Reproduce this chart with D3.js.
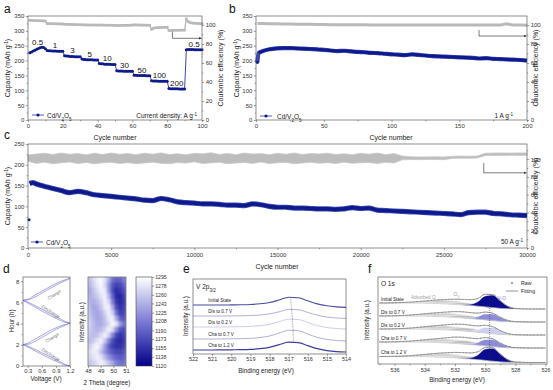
<!DOCTYPE html>
<html>
<head>
<meta charset="utf-8">
<script src="https://cdn.jsdelivr.net/npm/d3@7/dist/d3.min.js"></script>
<style>
body{margin:0;background:#fff;}
svg{display:block;font-family:"Liberation Sans",Arial,sans-serif;}
.ax text{fill:#333;}
.ax line{stroke:#444;stroke-width:0.5;}
</style>
</head>
<body>
<div id="fig"></div>
<script>
// ---------- a : rate capability ----------
var rateCap = [
226,229,232,235,238,241,243,245,244,240,
234,233,233,232,232,232,231,231,231,231,
216,215,215,214,214,214,213,213,213,213,
205,204,204,203,203,203,203,202,202,202,
190,189,189,188,188,188,188,187,187,187,
166,165,165,165,164,164,164,164,164,164,
151,151,150,150,150,150,150,149,149,149,
132,131,131,131,130,130,130,130,130,130,
106,105,105,105,105,105,104,104,104,104,
236,237,237,237,237,236,236,236,236,236];
var rateCE = [
105.0,104.9,104.8,104.7,104.6,104.5,104.5,104.4,104.3,104.2,
101.5,101.5,101.4,101.4,101.3,101.3,101.2,101.2,101.1,101.1,
100.8,100.7,100.7,100.6,100.5,100.5,100.4,100.4,100.3,100.3,
100.2,100.2,100.1,100.1,100.0,100.0,100.0,100.0,99.9,99.9,
100.0,100.0,99.9,99.9,99.8,99.8,99.8,99.8,99.7,99.7,
99.4,99.5,99.6,99.6,99.7,99.7,99.8,99.8,99.8,99.9,
100.2,100.1,100.0,100.0,99.9,99.9,99.9,99.8,99.8,99.8,
95.5,96.5,97.0,97.2,97.3,97.4,97.5,97.5,97.6,97.6,
94.2,94.3,94.4,94.4,94.5,94.5,94.5,94.6,94.6,94.6,
106.5,103.8,102.6,102.2,102.0,101.8,101.7,101.6,101.5,101.5];
var rateLabels = ['0.5','1','3','5','10','30','50','100','200','0.5'];

// ---------- b : 1 A/g cycling ----------
var bCycles = [1,2,5,10,15,20,25,30,35,40,45,50,55,60,65,70,75,80,85,90,95,100,105,110,115,120,125,130,135,140,145,150,155,160,165,170,175,180,185,190,195,200];
var bCap = [194,226,232,238,241,242,242,241,240,239,238,236,234,232,233,231,229,228,226,225,223,221,220,218,221,219,217,215,214,213,212,211,210,209,207,208,206,205,204,203,202,200];
var bCE = [101.5,101.6,101.5,101.4,101.3,101.2,101.0,100.9,100.8,100.7,100.6,100.5,100.4,100.4,100.3,100.3,100.2,100.2,100.1,100.1,100.1,100.0,100.0,100.0,100.0,100.0,99.9,99.9,99.9,99.9,99.9,99.9,99.9,99.9,99.9,99.9,99.9,99.9,101.2,99.9,99.9,99.8];

// ---------- c : 50 A/g long cycling ----------
var cCycles = [0,100,300,500,1000,1500,2000,2500,3000,3500,4000,4500,5000,5500,6000,6500,7000,7500,8000,8500,9000,9500,10000,10500,11000,11500,12000,12500,13000,13500,14000,14500,15000,15500,16000,16500,17000,17500,18000,18500,19000,19500,20000,20500,21000,21500,22000,22500,23000,23500,24000,24500,25000,25500,26000,26500,27000,27500,28000,28500,29000,29500,30000];
var cCap = [68,155,157,154,148,143,138,133,136,133,128,126,124,122,120,118,115,114,119,116,111,109,108,106,106,105,103,103,102,106,104,100,98,98,96,96,95,94,94,93,94,97,95,96,91,90,89,88,87,86,85,84,83,82,80,85,86,86,83,82,80,79,78];
var cCeUpper = [104.5,105.8,106.5,105.2,106.8,105.5,106.2,104.8,106.6,105.1,
106.9,105.4,106.3,104.9,106.7,105.6,107.0,105.2,106.1,104.8,
106.5,105.9,107.1,105.3,106.4,105.0,106.8,105.7,106.2,104.9,
106.6,105.4,106.9,105.1,106.3,105.8,106.7,105.2,106.0,104.9,
106.5,105.6,106.8,105.0,106.2,
103.5,102.6,102.4,102.5,102.6,102.4,103.2,103.4,103.3,103.5,106.6,106.8,106.9,106.8,107.0,106.9];
var cCeLower = [97.5,95.2,96.4,94.8,95.9,96.8,95.0,96.2,94.7,95.8,
96.5,95.1,96.0,94.9,95.7,96.6,95.3,94.8,96.1,95.5,
96.9,95.0,95.8,96.4,94.9,95.6,96.2,95.2,96.7,95.0,
95.9,96.3,94.8,95.7,96.5,95.4,96.0,95.1,96.6,95.3,
95.9,96.2,95.0,96.4,95.6,
99.2,99.5,99.4,99.6,99.5,99.4,100.8,101.0,100.9,101.2,104.0,104.2,104.1,104.3,104.2,104.3];

// ---------- d : operando ----------
var dVolt = [0.2,0.3,0.4,0.5,0.6,0.7,0.8,0.9,1.0,1.1,1.2];
var dBranches = [
  [2.02,1.80,1.57,1.33,1.10,0.87,0.65,0.45,0.25,0.08,0.00],
  [2.02,1.88,1.68,1.47,1.25,1.03,0.82,0.60,0.38,0.15,0.00],
  [2.02,2.15,2.40,2.65,2.90,3.15,3.40,3.60,3.78,3.92,4.05],
  [2.02,2.05,2.20,2.45,2.70,2.95,3.20,3.45,3.65,3.85,4.05],
  [6.20,5.95,5.70,5.45,5.20,4.95,4.72,4.50,4.30,4.13,4.05],
  [6.20,6.03,5.83,5.60,5.36,5.12,4.90,4.66,4.43,4.20,4.05],
  [6.20,6.30,6.55,6.80,7.05,7.30,7.55,7.78,7.98,8.15,8.28],
  [6.20,6.24,6.40,6.62,6.88,7.13,7.38,7.62,7.85,8.05,8.28]];
var dBranchNames = [['Discharge',50,356,32],['Charge',53,339,-33],['Discharge',50,313,32],['Charge',55,296,-33]];
var hmTheta = [48.15,48.45,48.75,49.05,49.35,49.65,49.95,50.25,50.55,50.85];
var hmHours = [8.14,7.61,7.09,6.56,6.04,5.51,4.99,4.46,3.94,3.41,2.89,2.36,1.84,1.31,0.79,0.26];
var hmGrid = [
  [1250,1270,1285,1290,1275,1240,1200,1185,1190,1205],
  [1245,1265,1280,1290,1270,1225,1180,1165,1170,1190],
  [1235,1255,1270,1285,1280,1230,1175,1150,1160,1175],
  [1240,1250,1260,1275,1285,1250,1190,1150,1145,1165],
  [1245,1240,1250,1265,1285,1270,1210,1160,1150,1160],
  [1250,1235,1240,1255,1280,1285,1240,1175,1155,1165],
  [1255,1240,1235,1245,1265,1285,1265,1200,1165,1170],
  [1260,1245,1235,1240,1255,1280,1285,1240,1190,1180],
  [1265,1250,1240,1240,1250,1270,1290,1275,1230,1200],
  [1260,1250,1245,1250,1265,1285,1270,1220,1180,1175],
  [1255,1250,1255,1270,1285,1265,1215,1170,1155,1165],
  [1250,1260,1275,1285,1260,1215,1175,1155,1150,1160],
  [1260,1280,1290,1270,1230,1190,1165,1155,1155,1165],
  [1270,1285,1280,1255,1225,1200,1180,1170,1170,1180],
  [1265,1275,1285,1275,1250,1225,1205,1190,1185,1190],
  [1255,1265,1275,1285,1275,1255,1235,1210,1200,1200]];
var cbTicks = [1295,1278,1260,1243,1225,1208,1190,1173,1155,1138,1120];

// ---------- e : V 2p3/2 ----------
var eEnergy = [522,521.5,521,520.5,520,519.5,519,518.5,518,517.5,517,516.5,516,515.5,515,514.5,514];
var eNames = ['Initial State','Dis to 0.7 V','Dis to 0.2 V','Cha to 0.7 V','Cha to 1.2 V'];
var eCurves = [
  [3.0,3.0,3.0,3.0,3.1,3.2,3.5,4.2,5.5,8.0,10.8,10.2,7.2,4.1,2.2,1.1,0.6],
  [3.0,3.0,3.0,3.0,3.1,3.2,3.4,4.0,5.1,7.2,9.6,9.3,6.6,3.8,2.0,1.0,0.5],
  [2.5,2.5,2.5,2.6,2.7,2.8,3.1,3.8,5.2,7.7,10.3,10.0,7.0,3.9,2.0,1.0,0.5],
  [2.5,2.5,2.5,2.6,2.7,2.8,3.1,3.9,5.5,8.4,11.2,10.8,7.5,4.1,2.1,1.0,0.5],
  [2.5,2.5,2.5,2.6,2.7,2.8,3.1,3.8,5.2,7.8,10.3,9.8,6.9,3.8,1.9,0.9,0.5]];
var ePeaks = [516.9,516.85,516.8,516.77,516.75];

// ---------- f : O 1s ----------
var fEnergy = [537,536,535,534,533.5,533,532.5,532,531.5,531,530.5,530,529.5,529,528.5,528,527,526];
var fBg = [6,6,6,5.8,5.6,5.3,5.0,4.6,4.0,3.4,2.8,2.1,1.3,0.6,0.2,0,0,0];
var fNames = ['Initial State','Dis to 0.7 V','Dis to 0.2 V','Cha to 0.7 V','Cha to 1.2 V'];
var fAds = [
  [0,0.2,0.8,2.2,3.0,3.6,3.8,3.6,3.0,2.2,1.3,0.6,0.2,0,0,0,0,0],
  [0,0.2,0.9,2.4,3.2,3.8,4.0,3.8,3.2,2.4,1.4,0.6,0.2,0,0,0,0,0],
  [0,0.2,0.9,2.5,3.3,3.9,4.1,3.9,3.3,2.5,1.5,0.7,0.2,0,0,0,0,0],
  [0,0.2,0.9,2.4,3.2,3.8,4.0,3.8,3.2,2.4,1.4,0.6,0.2,0,0,0,0,0],
  [0,0.2,0.8,2.3,3.1,3.7,3.9,3.7,3.1,2.3,1.3,0.6,0.2,0,0,0,0,0]];
var fOv = [
  [0,0,0,0,0.1,0.3,0.8,1.6,2.3,2.4,1.8,1.0,0.4,0.1,0,0,0,0],
  [0,0,0,0,0.1,0.4,1.0,2.0,2.8,2.9,2.2,1.2,0.5,0.1,0,0,0,0],
  [0,0,0,0,0.1,0.5,1.2,2.3,3.2,3.3,2.5,1.4,0.5,0.1,0,0,0,0],
  [0,0,0,0,0.1,0.5,1.3,2.5,3.4,3.4,2.5,1.3,0.5,0.1,0,0,0,0],
  [0,0,0,0,0.1,0.4,0.9,1.8,2.5,2.6,1.9,1.0,0.4,0.1,0,0,0,0]];
var fVo = [
  [0,0,0,0,0,0,0,0,0.3,1.3,4.5,11.0,12.6,7.6,2.6,0.6,0,0],
  [0,0,0,0,0,0,0,0,0.2,0.7,2.5,6.0,6.8,4.1,1.4,0.4,0,0],
  [0,0,0,0,0,0,0,0,0.2,0.6,2.3,5.5,6.3,3.8,1.3,0.3,0,0],
  [0,0,0,0,0,0,0,0,0.2,0.7,2.6,6.4,7.2,4.3,1.5,0.4,0,0],
  [0,0,0,0,0,0,0,0,0.3,1.3,4.6,11.3,12.9,7.8,2.7,0.6,0,0]];
var fVoColors = ['#0c0c8e','#8c8cd8','#cfcff2','#8c8cd8','#0c0c8e'];

var navy = '#0e1a8c', ceGray = '#b9b9b9';
var svg = d3.select('#fig').append('svg').attr('width', 553).attr('height', 390);
svg.append('rect').attr('width', 553).attr('height', 390).attr('fill', '#fff');
var defs = svg.append('defs');
defs.append('marker').attr('id', 'arr').attr('viewBox', '0 0 6 6').attr('refX', 6).attr('refY', 3)
  .attr('markerWidth', 4).attr('markerHeight', 4).attr('orient', 'auto')
  .append('path').attr('d', 'M0,0L6,3L0,6Z').attr('fill', '#222');

function axis(orient, scale, pos, major, minor, fmt, size, pad) {
  var mk = orient == 'left' ? d3.axisLeft : orient == 'right' ? d3.axisRight : d3.axisBottom;
  var tr = orient == 'bottom' ? 'translate(0,' + pos + ')' : 'translate(' + pos + ',0)';
  var a = svg.append('g').attr('class', 'ax').attr('transform', tr)
    .call(mk(scale).tickValues(major).tickSize(2.2).tickPadding(pad == null ? 1.5 : pad).tickFormat(fmt || d3.format('d')));
  a.attr('font-size', size || 6).attr('font-family', null);
  a.select('.domain').remove();
  if (minor) {
    var m = svg.append('g').attr('class', 'ax').attr('transform', tr)
      .call(mk(scale).tickValues(minor).tickSize(1.3).tickFormat(''));
    m.select('.domain').remove();
  }
  return a;
}
function frame(x0, y0, x1, y1) {
  svg.append('rect').attr('x', x0).attr('y', y0).attr('width', x1 - x0).attr('height', y1 - y0)
    .attr('fill', 'none').attr('stroke', '#444').attr('stroke-width', 0.6);
}
function label(x, y, parts, o) {
  o = o || {};
  var s = o.size || 7;
  var t = svg.append('text').attr('x', x).attr('y', y).attr('font-size', s)
    .attr('fill', o.fill || '#222').attr('text-anchor', o.anchor || 'start');
  if (o.rotate) t.attr('transform', 'rotate(' + o.rotate + ',' + x + ',' + y + ')');
  if (typeof parts == 'string') parts = [[parts]];
  parts.forEach(function(p) {
    var sp = t.append('tspan').text(p[0]);
    if (p[1]) sp.attr('baseline-shift', p[1] == 'sup' ? 'super' : 'sub').attr('font-size', s * 0.7);
  });
  return t;
}
var capTitle = [['Capacity (mAh g'], ['-1', 'sup'], [')']];
var cdv = [['Cd/V'], ['2', 'sub'], ['O'], ['5', 'sub']];
function legendLine(x, y) {
  svg.append('line').attr('x1', x).attr('x2', x + 12).attr('y1', y).attr('y2', y).attr('stroke', navy).attr('stroke-width', 0.7);
  svg.append('circle').attr('cx', x + 6).attr('cy', y).attr('r', 1.6).attr('fill', navy);
}

// ===== a =====
var xA = d3.scaleLinear().domain([0, 100]).range([28, 202]);
var yA = d3.scaleLinear().domain([0, 350]).range([120, 16]);
var yA2 = d3.scaleLinear().domain([0, 109.5]).range([120, 16]);
svg.append('path').datum(rateCE).attr('fill', 'none').attr('stroke', ceGray).attr('stroke-width', 1.4)
  .attr('d', d3.line().x(function(d, i) { return xA(i + 1); }).y(function(d) { return yA2(d); }));
svg.append('g').selectAll('rect').data(rateCE).enter().append('rect')
  .attr('x', function(d, i) { return xA(i + 1) - 1.3; }).attr('y', function(d) { return yA2(d) - 1.3; })
  .attr('width', 2.6).attr('height', 2.6).attr('fill', ceGray);
svg.append('path').datum(rateCap).attr('fill', 'none').attr('stroke', navy).attr('stroke-width', 0.8)
  .attr('d', d3.line().x(function(d, i) { return xA(i + 1); }).y(function(d) { return yA(d); }));
svg.append('g').selectAll('circle').data(rateCap).enter().append('circle')
  .attr('cx', function(d, i) { return xA(i + 1); }).attr('cy', function(d) { return yA(d); })
  .attr('r', 1.5).attr('fill', navy);
rateLabels.forEach(function(l, k) {
  var seg = rateCap.slice(k * 10, k * 10 + 10);
  label(xA(k * 10 + 5.5), yA(d3.max(seg)) - 2.5, l, {size: 8, anchor: 'middle', fill: '#111'});
});
svg.append('path').attr('d', 'M' + xA(83) + ',' + yA2(93) + 'V' + yA2(86) + 'H' + (xA(100) - 0.5))
  .attr('fill', 'none').attr('stroke', '#222').attr('stroke-width', 0.6).attr('marker-end', 'url(#arr)');
axis('bottom', xA, 120, [0, 20, 40, 60, 80, 100], [10, 30, 50, 70, 90], null, 6, 2);
axis('left', yA, 28, d3.range(0, 351, 50), d3.range(25, 350, 50));
axis('right', yA2, 202, [0, 20, 40, 60, 80, 100], [10, 30, 50, 70, 90]);
frame(28, 16, 202, 120);
legendLine(32, 115);
label(47, 117.5, cdv, {size: 6.5});
label(197, 117.5, [['Current density: A g'], ['-1', 'sup']], {size: 6.5, anchor: 'end'});
label(115, 140, 'Cycle number', {anchor: 'middle'});
label(9.5, 68, capTitle, {anchor: 'middle', rotate: -90});
label(222.5, 68, 'Coulombic efficiency (%)', {anchor: 'middle', rotate: -90});
label(4, 13, 'a', {size: 12, fill: '#111'});

// ===== b =====
var xB = d3.scaleLinear().domain([0, 200]).range([256, 527]);
var yB = d3.scaleLinear().domain([0, 350]).range([120, 16]);
var yB2 = d3.scaleLinear().domain([0, 109.5]).range([120, 16]);
svg.append('path').datum(bCE).attr('fill', 'none').attr('stroke', ceGray).attr('stroke-width', 3)
  .attr('d', d3.line().x(function(d, i) { return xB(bCycles[i]); }).y(function(d) { return yB2(d); }));
svg.append('path').datum(bCap).attr('fill', 'none').attr('stroke', '#3a48b4').attr('stroke-width', 4.2)
  .attr('d', d3.line().x(function(d, i) { return xB(bCycles[i]); }).y(function(d) { return yB(d); }).curve(d3.curveMonotoneX));
svg.append('path').datum(bCap.slice(1)).attr('fill', 'none').attr('stroke', navy).attr('stroke-width', 3)
  .attr('d', d3.line().x(function(d, i) { return xB(bCycles[i + 1]); }).y(function(d) { return yB(d); }).curve(d3.curveMonotoneX));
svg.append('circle').attr('cx', xB(bCycles[0])).attr('cy', yB(bCap[0])).attr('r', 1.6).attr('fill', navy);
svg.append('path').attr('d', 'M' + xB(164.6) + ',' + yB2(94.7) + 'V' + yB2(88.4) + 'H' + (xB(200) - 0.5))
  .attr('fill', 'none').attr('stroke', '#222').attr('stroke-width', 0.6).attr('marker-end', 'url(#arr)');
axis('bottom', xB, 120, [0, 50, 100, 150, 200], [25, 75, 125, 175], null, 6, 2);
axis('left', yB, 256, d3.range(0, 351, 50), d3.range(25, 350, 50));
axis('right', yB2, 527, [0, 20, 40, 60, 80, 100], [10, 30, 50, 70, 90]);
frame(256, 16, 527, 120);
legendLine(260, 116);
label(277, 118.5, cdv, {size: 6.5});
label(513, 117.5, [['1 A g'], ['-1', 'sup']], {size: 6.5, anchor: 'end'});
label(391, 140, 'Cycle number', {anchor: 'middle'});
label(239, 68, capTitle, {anchor: 'middle', rotate: -90});
label(538, 68, 'Coulombic efficiency (%)', {anchor: 'middle', rotate: -90});
label(229, 13, 'b', {size: 12, fill: '#111'});

// ===== c =====
var xC = d3.scaleLinear().domain([0, 30000]).range([28, 527]);
var yC = d3.scaleLinear().domain([0, 250]).range([248, 144]);
var yC2 = d3.scaleLinear().domain([0, 117]).range([248, 144]);
var ceGrid = d3.range(0, 30001, 500);
svg.append('path').datum(cCeUpper).attr('fill', '#bdbdbd').attr('stroke', '#c8c8c8').attr('stroke-width', 0.8)
  .attr('d', d3.area().x(function(d, i) { return xC(ceGrid[i]); })
    .y0(function(d, i) { return yC2(cCeLower[i]); }).y1(function(d) { return yC2(d); }));
svg.append('path').datum(cCap.slice(1)).attr('fill', 'none').attr('stroke', '#4050b8').attr('stroke-width', 5.2)
  .attr('d', d3.line().x(function(d, i) { return xC(cCycles[i + 1]); }).y(function(d) { return yC(d); }).curve(d3.curveMonotoneX));
svg.append('path').datum(cCap.slice(1)).attr('fill', 'none').attr('stroke', navy).attr('stroke-width', 3.6)
  .attr('d', d3.line().x(function(d, i) { return xC(cCycles[i + 1]); }).y(function(d) { return yC(d); }).curve(d3.curveMonotoneX));
svg.append('circle').attr('cx', xC(cCycles[0]) + 1).attr('cy', yC(cCap[0])).attr('r', 1.5).attr('fill', navy);
svg.append('path').attr('d', 'M' + xC(27400) + ',' + yC2(95.5) + 'V' + yC2(84.6) + 'H' + (xC(30000) - 0.5))
  .attr('fill', 'none').attr('stroke', '#222').attr('stroke-width', 0.6).attr('marker-end', 'url(#arr)');
axis('bottom', xC, 248, d3.range(0, 30001, 5000), d3.range(2500, 30000, 5000), null, 6, 2.5);
axis('left', yC, 28, d3.range(0, 251, 50), d3.range(25, 250, 50));
axis('right', yC2, 527, [0, 20, 40, 60, 80, 100], [10, 30, 50, 70, 90, 110]);
frame(28, 144, 527, 248);
legendLine(31, 242);
label(46, 244.5, cdv, {size: 6.5});
label(523, 243.5, [['50 A g'], ['-1', 'sup']], {size: 6.5, anchor: 'end'});
label(277, 268.5, 'Cycle number', {anchor: 'middle'});
label(9.5, 196, capTitle, {anchor: 'middle', rotate: -90});
label(538, 196, 'Coulombic efficiency (%)', {anchor: 'middle', rotate: -90});
label(4, 139, 'c', {size: 12, fill: '#111'});

// ===== d =====
var xD = d3.scaleLinear().domain([0.2, 1.2]).range([23, 70]);
var yD = d3.scaleLinear().domain([0, 8.4]).range([366, 277]);
dBranches.forEach(function(br) {
  svg.append('path').datum(br).attr('fill', 'none').attr('stroke', '#6a6acd').attr('stroke-width', 0.6)
    .attr('d', d3.line().x(function(d, i) { return xD(dVolt[i]); }).y(function(d) { return yD(d); }).curve(d3.curveMonotoneY));
});
dBranchNames.forEach(function(n) {
  label(n[1], n[2], n[0], {size: 4.6, fill: '#777', anchor: 'middle', rotate: n[3]});
});
axis('bottom', xD, 366, [0.3, 0.6, 0.9, 1.2], null, d3.format('.1f'), 5.8, 0.8);
axis('left', yD, 23, [0, 2, 4, 6, 8], [1, 3, 5, 7], null, 5.8);
frame(23, 277, 70, 366);
label(14, 321, 'Hour (h)', {size: 6.3, anchor: 'middle', rotate: -90});
label(46, 381, 'Voltage (V)', {size: 6.3, anchor: 'middle'});
label(3, 273, 'd', {size: 12, fill: '#111'});

var xH = d3.scaleLinear().domain([48, 51]).range([88, 126]);
var hmColor = d3.scaleLinear().domain([1120, 1208, 1295]).range(['#00008b', '#7b7bd6', '#ffffff']);
defs.append('clipPath').attr('id', 'hmclip').append('rect').attr('x', 88).attr('y', 277).attr('width', 38).attr('height', 89);
defs.append('filter').attr('id', 'soft').append('feGaussianBlur').attr('stdDeviation', 0.8);
var hm = svg.append('g').attr('clip-path', 'url(#hmclip)').append('g').attr('filter', 'url(#soft)');
hmGrid.forEach(function(row, r) {
  row.forEach(function(v, c) {
    hm.append('rect').attr('x', xH(hmTheta[c] - 0.15) - 0.3).attr('y', yD(hmHours[r] + 0.2625) - 0.3)
      .attr('width', xH(48.3) - xH(48) + 0.6).attr('height', yD(0) - yD(0.525) + 0.6).attr('fill', hmColor(v));
  });
});
axis('bottom', xH, 366, [48, 49, 50, 51], null, null, 5.8, 0.8);
frame(88, 277, 126, 366);
label(84, 322, 'Intensity (a.u.)', {size: 6.3, anchor: 'middle', rotate: -90});
label(107, 385, '2 Theta (degree)', {size: 6.3, anchor: 'middle'});

var yCb = d3.scaleLinear().domain([1120, 1295]).range([366, 277]);
var grad = defs.append('linearGradient').attr('id', 'cbg').attr('x1', 0).attr('y1', 1).attr('x2', 0).attr('y2', 0);
[1120, 1208, 1295].forEach(function(v, i) {
  grad.append('stop').attr('offset', i / 2).attr('stop-color', hmColor(v));
});
svg.append('rect').attr('x', 136).attr('y', 277).attr('width', 16).attr('height', 89).attr('fill', 'url(#cbg)');
frame(136, 277, 152, 366);
axis('right', yCb, 152, cbTicks, null, null, 5.2, 1);

// ===== e =====
var xE = d3.scaleLinear().domain([522, 514]).range([193, 346]);
var yE = d3.scaleLinear().domain([0, 75]).range([354, 279]);
var eOffsets = [46, 35, 24.5, 12.5, 1.5];
var eColors = ['#4b4ba6', '#9a9ad4', '#c0c0e6', '#9a9ad4', '#3c3c9c'];
var eWidths = [1.1, 0.8, 0.8, 0.8, 1.2];
eCurves.forEach(function(cv, k) {
  svg.append('path').datum(cv).attr('fill', 'none').attr('stroke', eColors[k]).attr('stroke-width', eWidths[k])
    .attr('d', d3.line().x(function(d, i) { return xE(eEnergy[i]); }).y(function(d) { return yE(d + eOffsets[k]); }).curve(d3.curveMonotoneX));
  label(xE(521.2), yE(cv[0] + eOffsets[k]) - 3, eNames[k], {size: 4.6, fill: '#222'});
});
svg.append('path').datum(ePeaks).attr('fill', 'none').attr('stroke', '#555').attr('stroke-width', 0.6).attr('stroke-dasharray', '0.8,0.8')
  .attr('d', d3.line().x(function(d) { return xE(d); }).y(function(d, k) { return yE(eOffsets[k] + d3.max(eCurves[k])); }));
axis('bottom', xE, 354, d3.range(522, 513.5, -1), null, null, 5.5, 1.2);
frame(193, 279, 346, 354);
label(196, 289, [['V 2p'], ['3/2', 'sub']], {size: 6.5});
label(188, 316, 'Intensity (a.u.)', {size: 6.3, anchor: 'middle', rotate: -90});
label(266, 373, 'Binding energy (eV)', {size: 6.3, anchor: 'middle'});
label(183, 273, 'e', {size: 12, fill: '#111'});

// ===== f =====
var xF = d3.scaleLinear().domain([537.1, 525.9]).range([378, 547]);
var yF = d3.scaleLinear().domain([0, 87]).range([364, 277]);
var fOffsets = [55, 42, 29, 16, 1.5];
defs.append('clipPath').attr('id', 'fclip').append('rect').attr('x', 378).attr('y', 277).attr('width', 169).attr('height', 87);
var gF = svg.append('g').attr('clip-path', 'url(#fclip)');
fNames.forEach(function(n, k) {
  var o = fOffsets[k];
  var base = function(i) { return yF(o + fBg[i]); };
  var comp = function(arr, fill) {
    gF.append('path').datum(arr).attr('fill', fill).attr('stroke', '#fff').attr('stroke-width', 0.5)
      .attr('d', d3.area().x(function(d, i) { return xF(fEnergy[i]); }).y0(function(d, i) { return base(i); })
        .y1(function(d, i) { return yF(o + fBg[i] + d); }).curve(d3.curveMonotoneX));
  };
  comp(fAds[k], '#d2d2d2');
  comp(fOv[k], '#bdbdbd');
  comp(fVo[k], fVoColors[k]);
  var env = fEnergy.map(function(e, i) { return o + fBg[i] + fAds[k][i] + fOv[k][i] + fVo[k][i]; });
  gF.append('path').datum(fBg).attr('fill', 'none').attr('stroke', '#999').attr('stroke-width', 0.4)
    .attr('d', d3.line().x(function(d, i) { return xF(fEnergy[i]); }).y(function(d) { return yF(o + d); }).curve(d3.curveMonotoneX));
  gF.append('path').datum(env).attr('fill', 'none').attr('stroke', '#666').attr('stroke-width', 1)
    .attr('stroke-dasharray', '0.7,0.7')
    .attr('d', d3.line().x(function(d, i) { return xF(fEnergy[i]); }).y(function(d) { return yF(d); }).curve(d3.curveMonotoneX));
  gF.append('path').datum(env).attr('fill', 'none').attr('stroke', '#888').attr('stroke-width', 0.5)
    .attr('d', d3.line().x(function(d, i) { return xF(fEnergy[i]); }).y(function(d) { return yF(d); }).curve(d3.curveMonotoneX));
  label(381, yF(o + fBg[0]) - 2.5, n, {size: 4.6, fill: '#222'});
});
svg.append('line').attr('x1', xF(529.7)).attr('x2', xF(529.7)).attr('y1', yF(70)).attr('y2', yF(3))
  .attr('stroke', '#333').attr('stroke-width', 0.5).attr('stroke-dasharray', '1,1');
axis('bottom', xF, 364, [536, 534, 532, 530, 528, 526], [537, 535, 533, 531, 529, 527], null, 5.5, 1.5);
frame(378, 277, 547, 364);
label(381, 286, 'O 1s', {size: 6.5});
svg.append('circle').attr('cx', 512).attr('cy', 283).attr('r', 0.9).attr('fill', '#777');
label(521, 285, 'Raw', {size: 5.2});
svg.append('line').attr('x1', 506).attr('x2', 518).attr('y1', 291).attr('y2', 291).attr('stroke', '#888').attr('stroke-width', 0.9);
label(521, 293, 'Fitting', {size: 5.2});
label(xF(534.1), 299, 'Adsorbed O', {size: 4.6, fill: '#a0a0a0', anchor: 'middle'});
label(xF(531.9), 296, [['O'], ['V', 'sub']], {size: 4.8, fill: '#a0a0a0', anchor: 'middle'});
label(xF(528.9), 300, 'V-O', {size: 4.8, fill: '#8a8ad8', anchor: 'middle'});
label(369, 320, 'Intensity (a.u.)', {size: 6.3, anchor: 'middle', rotate: -90});
label(457, 382, 'Binding energy (eV)', {size: 6.3, anchor: 'middle'});
label(368, 273, 'f', {size: 12, fill: '#111'});
</script>
</body>
</html>
